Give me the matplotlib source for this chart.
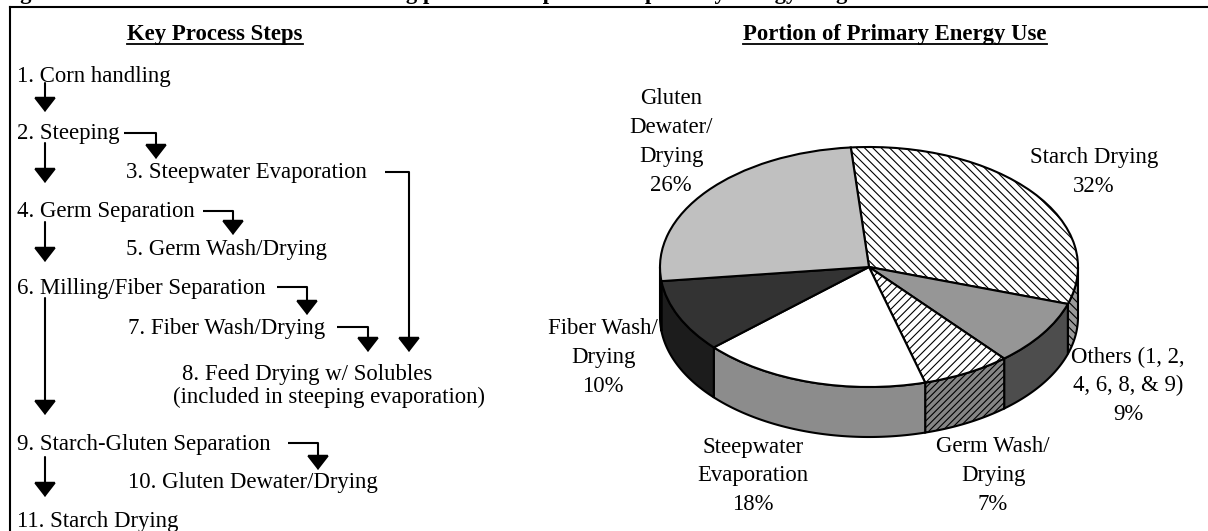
import matplotlib
matplotlib.use("Agg")
import matplotlib.pyplot as plt
import numpy as np
from matplotlib.patches import Polygon, FancyArrowPatch

# ---- chart content ----
fig_title = ("Figure 3. Schematic of the corn wet milling process "
             "and portion of primary energy usage")
left_title = "Key Process Steps"
right_title = "Portion of Primary Energy Use"

steps = ["1. Corn handling", "2. Steeping", "3. Steepwater Evaporation",
         "4. Germ Separation", "5. Germ Wash/Drying",
         "6. Milling/Fiber Separation", "7. Fiber Wash/Drying",
         "8. Feed Drying w/ Solubles", "(included in steeping evaporation)",
         "9. Starch-Gluten Separation", "10. Gluten Dewater/Drying",
         "11. Starch Drying"]

segments = ["Starch Drying", "Others (1, 2,\n4, 6, 8, & 9)",
            "Germ Wash/\nDrying", "Steepwater\nEvaporation",
            "Fiber Wash/\nDrying", "Gluten\nDewater/\nDrying"]
shares = [32, 9, 7, 18, 10, 26]

# ---- layout (pixels) ----
W, H = 1208, 531
step_xy = [(17, 82), (17, 139), (126, 178), (17, 217), (126, 255),
           (17, 294), (128, 334), (182, 380), (173, 403), (17, 450),
           (128, 488), (17, 527)]
arrows = [[(45, 83), (45, 112)], [(45, 143), (45, 183)],
          [(45, 222), (45, 262)], [(45, 298), (45, 415)],
          [(45, 457), (45, 497)],
          [(124, 133), (156, 133), (156, 159)],
          [(385, 172), (409, 172), (409, 352)],
          [(203, 211), (233, 211), (233, 235)],
          [(277, 287), (307, 287), (307, 315)],
          [(337, 327), (368, 327), (368, 352)],
          [(288, 443), (318, 443), (318, 470)]]
label_xy = [(1094, 158), (1128, 357), (993, 447), (753, 447), (603, 329),
            (671, 99)]
line_step = 28.7

top_colors = ['white', '#969696', 'white', 'white', '#333333', '#c0c0c0']
top_hatch = ['\\\\\\\\', '', '////', '', '', '']
side_colors = ['#9a9a9a', '#4d4d4d', '#858585', '#8c8c8c', '#1c1c1c',
               '#8c8c8c']
side_hatch = ['\\\\\\\\', '', '/////', '', '', '']

plt.rcParams['font.family'] = ['Liberation Serif', 'DejaVu Serif']
plt.rcParams['hatch.linewidth'] = 0.8
FS = 16.4

fig = plt.figure(figsize=(W / 100, H / 100), dpi=100)
ax = fig.add_axes([0, 0, 1, 1])
ax.set_xlim(0, W)
ax.set_ylim(H, 0)
ax.axis('off')

# frame and clipped caption
ax.plot([10, 10], [7, H + 5], color='k', lw=1.5, clip_on=False)
ax.plot([10, W + 5], [7, 7], color='k', lw=1.5, clip_on=False)
ax.text(0, -0.5, fig_title, fontsize=FS, fontweight='bold', va='baseline',
        ha='left', clip_on=False)

# panel headings, underlined
heads = [ax.text(215, 40, left_title, fontsize=FS, fontweight='bold',
                 ha='center', va='baseline'),
         ax.text(895, 40, right_title, fontsize=FS, fontweight='bold',
                 ha='center', va='baseline')]
fig.canvas.draw()
inv = ax.transData.inverted()
for t in heads:
    bb = t.get_window_extent()
    (x0, _), (x1, _) = inv.transform([(bb.x0, bb.y0), (bb.x1, bb.y0)])
    ax.plot([x0, x1], [43.5, 43.5], color='k', lw=1.3)

# process steps
for s, (x, y) in zip(steps, step_xy):
    ax.text(x, y, s, fontsize=FS, ha='left', va='baseline')

for path in arrows:
    xs, ys = zip(*path)
    if len(path) > 2:
        ax.plot(xs[:-1], ys[:-1], color='k', lw=1.5,
                solid_joinstyle='miter', solid_capstyle='butt')
    ax.add_patch(FancyArrowPatch(path[-2], path[-1],
                                 arrowstyle='-|>,head_length=9,head_width=7',
                                 mutation_scale=1, lw=1.5, color='k',
                                 shrinkA=0, shrinkB=0, joinstyle='miter'))

# ---- 3D-looking pie ----
cx, cy, a, b, depth = 869, 267, 209, 120, 50
d = depth / b
pax = fig.add_axes([(cx - a) / W, 1 - (cy + b + depth) / H,
                    2 * a / W, (2 * b + depth) / H])
wedges, _ = pax.pie(shares, colors=top_colors, hatch=top_hatch,
                    startangle=95, counterclock=False, radius=1,
                    wedgeprops=dict(edgecolor='k', linewidth=1.5))
pax.set_aspect('auto')
pax.set_xlim(-1, 1)
pax.set_ylim(-1 - d, 1)
pax.axis('off')
for w in wedges:
    w.set_clip_on(False)

for w, c, h in zip(wedges, side_colors, side_hatch):
    for k in range(-2, 2):
        lo = max(w.theta1, -180 + 360 * k)
        hi = min(w.theta2, 360 * k)
        if hi <= lo:
            continue
        t = np.radians(np.linspace(lo, hi, 80))
        top = np.column_stack([np.cos(t), np.sin(t)])
        bot = np.column_stack([np.cos(t), np.sin(t) - d])[::-1]
        pax.add_patch(Polygon(np.vstack([top, bot]), closed=True,
                              facecolor=c, edgecolor='k', lw=1.5,
                              hatch=h, clip_on=False, zorder=0.5))

# pie labels
for name, v, (x, y) in zip(segments, shares, label_xy):
    lines = (name + "\n" + f"{v}%").split("\n")
    for i, ln in enumerate(lines):
        ax.text(x, y + i * line_step, ln, fontsize=FS, ha='center',
                va='center')

fig.savefig("out.png", dpi=100)
